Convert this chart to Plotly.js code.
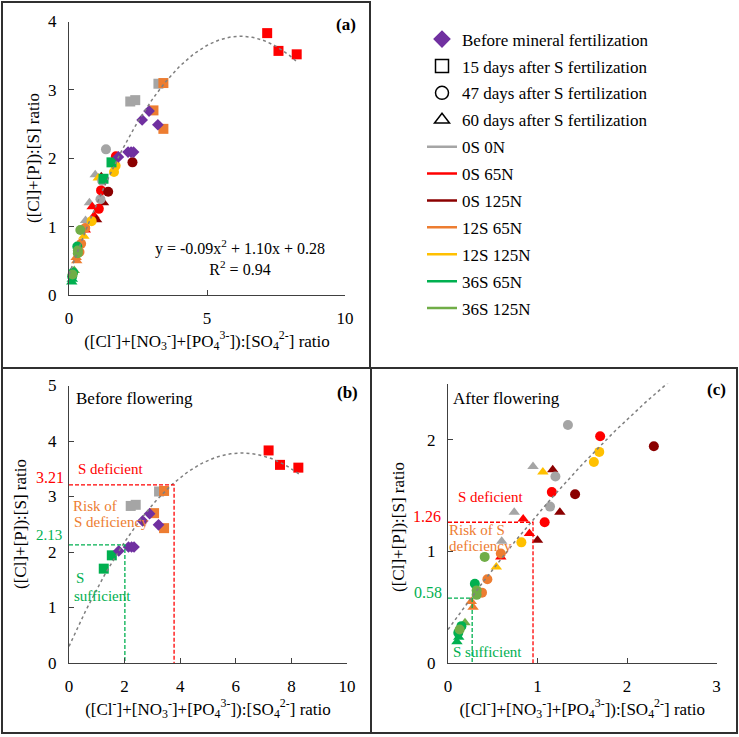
<!DOCTYPE html>
<html>
<head>
<meta charset="utf-8">
<script src="https://cdn.plot.ly/plotly-3.0.1.min.js"></script>
<style>html,body{margin:0;padding:0;background:#fff;}#chart{width:739px;height:737px;}</style>
</head>
<body>
<div id="chart"></div>
<script>
// ---------------- DATA ----------------
const treatments = ['0S 0N', '0S 65N', '0S 125N', '12S 65N', '12S 125N', '36S 65N', '36S 125N'];
const treatmentColors = ['#A5A5A5', '#FF0000', '#8B0000', '#ED7D31', '#FFC000', '#00B050', '#70AD47'];
const timeLabels = ['Before mineral fertilization', '15 days after S fertilization', '47 days after S fertilization', '60 days after S fertilization'];

// Before mineral fertilization (diamonds)
const beforeX = [1.79, 2.14, 2.25, 2.34, 2.65, 2.90, 3.22];
const beforeY = [2.02, 2.09, 2.09, 2.09, 2.56, 2.69, 2.49];

// 15 days after S fertilization (squares), per treatment
const day15X = [[2.22, 2.40, 3.24], [7.18, 7.59, 8.25], [], [3.06, 3.42, 3.42], [], [1.25, 1.54], []];
const day15Y = [[2.83, 2.85, 3.09], [3.83, 3.57, 3.52], [], [2.70, 3.10, 2.43], [], [1.70, 1.94], []];

// 47 days after S fertilization (circles), per treatment
const day47X = [[1.34, 1.20, 1.14], [1.70, 1.16, 1.08], [2.30, 1.42], [0.59, 0.44, 0.38], [1.69, 1.63, 0.82], [0.30, 0.15, 0.115], [0.41, 0.32, 0.32, 0.13]];
const day47Y = [[2.13, 1.67, 1.40], [2.03, 1.53, 1.26], [1.94, 1.51], [0.98, 0.75, 0.63], [1.89, 1.80, 1.08], [0.71, 0.33, 0.27], [0.95, 0.65, 0.61, 0.30]];

// 60 days after S fertilization (triangles), per treatment
const day60X = [[0.95, 0.74, 0.60], [0.84, 0.91, 0.59], [1.17, 1.25, 1.00], [0.26, 0.28], [1.06, 0.54], [0.10, 0.12], [0.19]];
const day60Y = [[1.76, 1.35, 1.09], [1.29, 1.16, 0.95], [1.73, 1.35, 1.10], [0.55, 0.50], [1.71, 0.86], [0.19, 0.23], [0.36]];

// polynomial trendline coefficients [a, b, c] for y = a x^2 + b x + c
const trendCoef = [-0.09, 1.12, 0.30];
const trendMaxAB = 8.3;
const trendMaxC = 2.5;

// diagnosis thresholds
const bThreshY = [2.13, 3.21];
const bThreshX = [2.01, 3.78];
const cThreshY = [0.58, 1.26];
const cThreshX = [0.27, 0.95];
const threshColors = ['#00B050', '#FF0000'];

// ---------------- helpers ----------------
const W = 739, H = 737;
const px = v => v / W;
const py = v => 1 - v / H;
const FONT = "'Times New Roman', 'Liberation Serif', serif";
const AX = '#404040';

const traces = [];

function addPoints(xs, ys, symbol, color, size, xa, ya) {
  traces.push({
    type: 'scatter', mode: 'markers', x: xs, y: ys, xaxis: xa, yaxis: ya,
    showlegend: false, cliponaxis: false, hoverinfo: 'x+y',
    marker: {symbol: symbol, color: color, size: size, line: {width: 0}}
  });
}
function addGroup(X, Y, symbol, size, xa, ya) {
  for (let i = 0; i < treatments.length; i++) {
    if (X[i].length) addPoints(X[i], Y[i], symbol, treatmentColors[i], size, xa, ya);
  }
}
function addTrend(xmax, xa, ya) {
  const xs = [], ys = [];
  for (let k = 0; k <= 100; k++) {
    const x = xmax * k / 100;
    xs.push(x);
    ys.push(trendCoef[0] * x * x + trendCoef[1] * x + trendCoef[2]);
  }
  traces.push({type: 'scatter', mode: 'lines', x: xs, y: ys, xaxis: xa, yaxis: ya, showlegend: false,
    hoverinfo: 'skip', line: {color: '#7F7F7F', width: 1.5, dash: 'dot'}});
}
function addThresh(tx, ty, color, xa, ya) {
  traces.push({type: 'scatter', mode: 'lines', x: [0, tx, tx], y: [ty, ty, 0], xaxis: xa, yaxis: ya,
    showlegend: false, hoverinfo: 'skip', cliponaxis: false, line: {color: color, width: 1.3, dash: '4px,2px'}});
}

// Panel (a)
addGroup(day60X, day60Y, 'triangle-up', 10, 'x', 'y');
addGroup(day47X, day47Y, 'circle', 10, 'x', 'y');
addGroup(day15X, day15Y, 'square', 10, 'x', 'y');
addPoints(beforeX, beforeY, 'diamond', '#7030A0', 9, 'x', 'y');
addTrend(trendMaxAB, 'x', 'y');

// Panel (b)
addGroup(day15X, day15Y, 'square', 10, 'x2', 'y2');
addPoints(beforeX, beforeY, 'diamond', '#7030A0', 9, 'x2', 'y2');
addTrend(trendMaxAB, 'x2', 'y2');
for (let i = 0; i < 2; i++) addThresh(bThreshX[i], bThreshY[i], threshColors[i], 'x2', 'y2');

// Panel (c)
addGroup(day60X, day60Y, 'triangle-up', 10, 'x3', 'y3');
addGroup(day47X, day47Y, 'circle', 10, 'x3', 'y3');
addTrend(trendMaxC, 'x3', 'y3');
for (let i = 0; i < 2; i++) addThresh(cThreshX[i], cThreshY[i], threshColors[i], 'x3', 'y3');

// Legend entries
const legendSymbols = ['diamond', 'square-open', 'circle-open', 'triangle-up-open'];
const legendSymColors = ['#7030A0', '#000', '#000', '#000'];
let g = 0;
for (let i = 0; i < 4; i++) {
  traces.push({type: 'scatter', mode: 'markers', x: [null], y: [null], name: timeLabels[i],
    legendgroup: 'g' + (g++), showlegend: true,
    marker: {symbol: legendSymbols[i], color: legendSymColors[i], size: i === 0 ? 12 : 13, line: {width: 1.5, color: legendSymColors[i]}}});
}
for (let i = 0; i < treatments.length; i++) {
  traces.push({type: 'scatter', mode: 'lines', x: [null], y: [null], name: treatments[i],
    legendgroup: 'g' + (g++), showlegend: true, line: {color: treatmentColors[i], width: 2.5}});
}

// ---------------- layout ----------------
const xTitle = '([Cl<sup>-</sup>]+[NO<sub>3</sub><sup>-</sup>]+[PO<sub>4</sub><sup>3-</sup>]):[SO<sub>4</sub><sup>2-</sup>] ratio';
const yTitle = '([Cl]+[P]):[S] ratio';

function axis(extra) {
  return Object.assign({
    showgrid: false, zeroline: false, showline: true, linecolor: AX, linewidth: 1,
    ticks: 'inside', ticklen: 5, tickcolor: AX, tickwidth: 1, ticklabelstandoff: 8,
    tickfont: {family: FONT, size: 17, color: '#000'}, fixedrange: true, automargin: false
  }, extra);
}

function ann(xp, yp, text, size, color, xanchor, extra) {
  return Object.assign({xref: 'paper', yref: 'paper', x: px(xp), y: py(yp), text: text, showarrow: false,
    xanchor: xanchor, yanchor: 'middle', font: {family: FONT, size: size, color: color}}, extra || {});
}
const annotations = [
  // y-axis titles
  ann(33, 158, yTitle, 17, '#000', 'center', {textangle: -90}),
  ann(20, 524, yTitle, 17, '#000', 'center', {textangle: -90}),
  ann(398, 527, yTitle, 17, '#000', 'center', {textangle: -90}),
  ann(240, 257, 'y = -0.09x<sup>2</sup> + 1.10x + 0.28<br>R<sup>2</sup> = 0.94', 16, '#000', 'center', {align: 'center'}),
  ann(358, 25, '<b>(a)</b>', 17, '#000', 'right'),
  ann(360, 392, '<b>(b)</b>', 17, '#000', 'right'),
  ann(728, 389, '<b>(c)</b>', 17, '#000', 'right'),
  ann(74, 398, 'Before flowering', 17, '#000', 'left'),
  ann(451, 398, 'After flowering', 17, '#000', 'left'),
  // panel b labels
  ann(76, 469, 'S deficient', 15, '#FF0000', 'left'),
  ann(71, 506, 'Risk of', 15, '#ED7D31', 'left'),
  ann(72, 522, 'S deficiency', 15, '#ED7D31', 'left'),
  ann(74, 578, 'S', 15, '#00B050', 'left'),
  ann(72, 596, 'sufficient', 15, '#00B050', 'left'),
  {xref: 'x2', yref: 'y2', x: 0, y: bThreshY[1], text: String(bThreshY[1]), showarrow: false, xanchor: 'right', yanchor: 'middle', xshift: -3, yshift: 7, font: {family: FONT, size: 16, color: '#FF0000'}},
  {xref: 'x2', yref: 'y2', x: 0, y: bThreshY[0], text: String(bThreshY[0]), showarrow: false, xanchor: 'right', yanchor: 'middle', xshift: -5, yshift: 10, font: {family: FONT, size: 15, color: '#00B050'}},
  // panel c labels
  ann(456, 497, 'S deficient', 15, '#FF0000', 'left'),
  ann(447, 530, 'Risk of S', 15, '#ED7D31', 'left'),
  ann(447, 546, 'deficiency', 15, '#ED7D31', 'left'),
  ann(451, 652, 'S sufficient', 15, '#00B050', 'left'),
  {xref: 'x3', yref: 'y3', x: 0, y: cThreshY[1], text: cThreshY[1].toFixed(2), showarrow: false, xanchor: 'right', yanchor: 'middle', xshift: -5, yshift: 6, font: {family: FONT, size: 16, color: '#FF0000'}},
  {xref: 'x3', yref: 'y3', x: 0, y: cThreshY[0], text: cThreshY[0].toFixed(2), showarrow: false, xanchor: 'right', yanchor: 'middle', xshift: -4, yshift: 6, font: {family: FONT, size: 16, color: '#00B050'}}
];

const boxLine = {color: '#303030', width: 2};
const shapes = [
  {type: 'rect', xref: 'paper', yref: 'paper', x0: px(2), x1: px(370), y0: py(368), y1: py(2), line: boxLine},
  {type: 'rect', xref: 'paper', yref: 'paper', x0: px(2), x1: px(371), y0: py(733), y1: py(368), line: boxLine},
  {type: 'rect', xref: 'paper', yref: 'paper', x0: px(371), x1: px(737), y0: py(733), y1: py(368), line: boxLine}
];

const titleFont = {family: FONT, size: 17, color: '#000'};
const layout = {
  width: W, height: H,
  margin: {l: 0, r: 0, t: 0, b: 0},
  paper_bgcolor: '#fff', plot_bgcolor: 'rgba(0,0,0,0)',
  font: {family: FONT, size: 16, color: '#000'},
  showlegend: true,
  legend: {x: px(422), y: py(21.5), xanchor: 'left', yanchor: 'top', bgcolor: 'rgba(0,0,0,0)',
    font: {family: FONT, size: 17, color: '#000'}, tracegroupgap: 1.8, itemclick: false, itemdoubleclick: false},
  xaxis: axis({domain: [px(69), px(345)], range: [0, 10], dtick: 5, anchor: 'y',
    title: {text: xTitle, font: titleFont, standoff: 6}}),
  yaxis: axis({domain: [py(295), py(21.5)], range: [0, 4], dtick: 1, anchor: 'x'}),
  xaxis2: axis({domain: [px(69), px(347)], range: [0, 10], dtick: 2, anchor: 'y2',
    title: {text: xTitle, font: titleFont, standoff: 6}}),
  yaxis2: axis({domain: [py(663), py(385.5)], range: [0, 5], dtick: 1, anchor: 'x2'}),
  xaxis3: axis({domain: [px(448), px(716.5)], range: [0, 3], dtick: 1, anchor: 'y3',
    title: {text: xTitle, font: titleFont, standoff: 6}}),
  yaxis3: axis({domain: [py(663), py(663 - 2.5 * 111.7)], range: [0, 2.5], tickvals: [0, 1, 2], anchor: 'x3'}),
  annotations: annotations,
  shapes: shapes
};

Plotly.newPlot('chart', traces, layout, {displayModeBar: false, staticPlot: true});
</script>
</body>
</html>
